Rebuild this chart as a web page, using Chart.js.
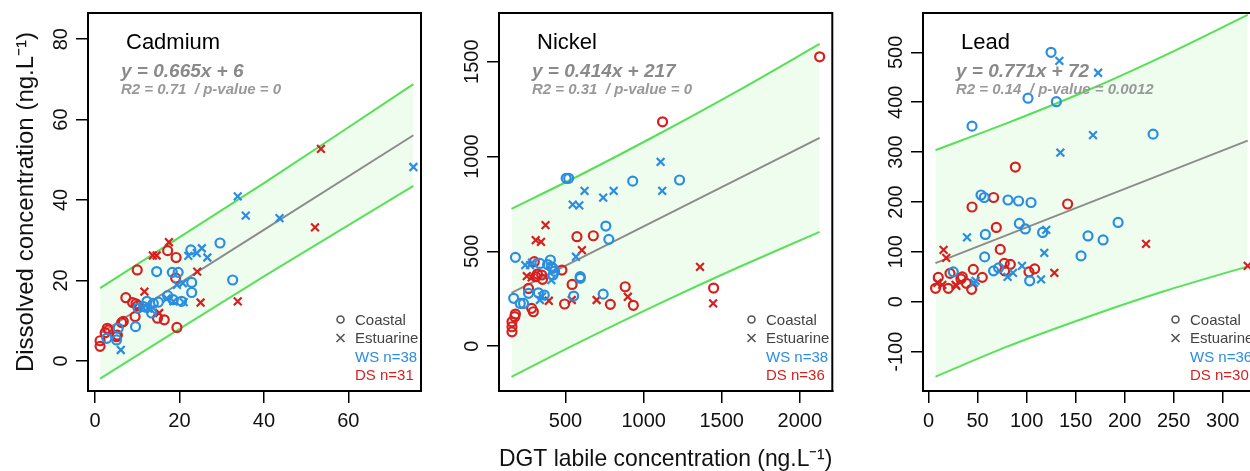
<!DOCTYPE html>
<html>
<head>
<meta charset="utf-8">
<script src="https://cdn.jsdelivr.net/npm/chart.js@4.4.1/dist/chart.umd.min.js"></script>
<style>
  html, body { margin: 0; padding: 0; background: #fff; }
  body { width: 1250px; height: 471px; position: relative; overflow: hidden; }
  canvas { position: absolute; top: 0; }
</style>
</head>
<body>
<canvas id="cd" width="430" height="471" style="left:0px"></canvas>
<canvas id="ni" width="400" height="471" style="left:440px"></canvas>
<canvas id="pb" width="410" height="471" style="left:860px"></canvas>
<script>
// ---- Cadmium ----
const cdXTicks = [0, 20, 40, 60];
const cdYTicks = [0, 20, 40, 60, 80];
const cdCoastalWS = [[29.6,29.3],[22.7,27.6],[32.6,20.1],[22.9,19.5],[22.9,17.0],[14.6,22.2],[18.3,22.0],[19.7,22.0],[17.2,16.2],[18.5,15.2],[20.5,14.8],[12.3,14.8],[13.8,14.3],[10.2,13.1],[13.4,11.9],[11.5,13.5],[9.6,8.5],[5.5,8.1],[5.1,5.2],[2.8,5.6],[15.0,14.6]];
const cdEstuarineWS = [[75.4,48.2],[33.8,40.9],[35.7,36.1],[43.7,35.5],[25.3,28.0],[22.1,26.1],[24.1,26.8],[26.6,25.7],[19.4,18.9],[20.8,19.3],[18.6,14.8],[11.4,13.2],[12.6,13.0],[6.1,2.7],[17.0,15.5],[21.0,14.6],[13.2,12.8]];
const cdCoastalDS = [[17.2,27.4],[19.2,25.7],[10.0,22.6],[19.1,20.6],[7.3,15.7],[8.9,14.5],[9.7,14.2],[10.1,13.7],[9.5,11.0],[14.8,10.6],[16.4,10.2],[19.4,8.3],[6.3,9.5],[6.7,9.8],[5.1,6.0],[3.2,7.7],[2.4,7.0],[1.2,5.0],[1.2,3.6],[2.9,8.1],[5.3,6.4]];
const cdEstuarineDS = [[53.5,52.7],[52.1,33.2],[33.8,14.8],[25.0,14.5],[24.2,22.2],[17.5,29.5],[13.7,26.2],[14.6,26.2],[11.7,17.2],[15.2,11.9]];
const cdFit = [[1.2,6.8],[75.4,56.1]];
const cdUpper = [[1.2,18.1],[40,44.2],[75.4,68.8]];
const cdLower = [[1.2,-4.4],[40,21.0],[75.4,43.5]];

// ---- Nickel ----
const niXTicks = [500, 1000, 1500, 2000];
const niYTicks = [0, 500, 1000, 1500];
const niCoastalWS = [[504,885],[520,885],[930,870],[1230,876],[758,633],[777,563],[179,468],[336,436],[403,454],[409,418],[420,410],[420,375],[594,366],[594,357],[168,252],[210,225],[231,225],[263,278],[326,281],[364,269],[552,264],[741,274],[385,430],[430,395]];
const niEstuarineWS = [[1109,972],[1119,819],[622,819],[808,819],[741,783],[546,746],[588,742],[567,471],[242,427],[273,427],[409,348],[336,243],[350,262],[285,440]];
const niCoastalDS = [[2127,1526],[1121,1183],[573,577],[678,582],[300,445],[477,401],[309,366],[347,375],[353,352],[263,304],[542,325],[882,313],[1448,306],[494,222],[787,220],[934,215],[283,199],[294,181],[179,169],[175,155],[157,128],[157,102],[157,75],[320,380]];
const niEstuarineDS = [[372,638],[309,559],[343,550],[605,506],[1361,418],[252,369],[283,362],[393,239],[540,243],[699,243],[899,260],[1445,225]];
const niFit = [[154,281],[2127,1098]];
const niUpper = [[154,724],[600,905],[1100,1120],[1600,1345],[2127,1594]];
const niLower = [[154,-162],[600,25],[1100,224],[1600,413],[2127,602]];

// ---- Lead ----
const pbXTicks = [0, 50, 100, 150, 200, 250, 300];
const pbYTicks = [-100, 0, 100, 200, 300, 400, 500];
const pbCoastalWS = [[124.9,500],[101.4,408],[130.3,401],[44.3,352],[229,336],[53.5,214],[56.8,209],[81,204],[91.8,202],[104.5,199],[92.6,157],[98.7,146],[57.9,135],[116.3,139],[162.6,132],[178,124],[193.3,159],[57.2,90],[155.5,92],[71.4,68],[66.3,62],[103.1,42],[25.2,60]];
const pbEstuarineWS = [[133.4,483],[172.9,459],[167.7,334],[134.4,299],[39.2,129],[120,144],[118,98],[95.3,72],[86.1,58],[80.6,50],[114.7,45],[46.3,38],[48,42]];
const pbCoastalDS = [[88.5,270],[66.3,209],[44.3,190],[141.8,196],[69.1,149],[73.1,105],[77.2,77],[83.4,75],[77.6,62],[102.4,60],[108.2,66],[45.6,65],[54.8,49],[21.8,57],[9.9,49],[7.1,27],[20.1,27],[34.4,50],[33,46],[38.5,37],[43.9,25]];
const pbEstuarineDS = [[15.3,104],[18,88],[221.8,116],[128.3,58],[325.5,72],[9,38],[28.3,32],[14,34],[27.6,34]];
const pbFit = [[7,77.4],[325.5,323]];
const pbUpper = [[7,304],[80,358],[160,422],[240,493],[325.5,575]];
const pbLower = [[7,-150],[80,-90],[160,-32],[240,21],[325.5,71]];

const WS = '#2b8de0';
const DS = '#d81f1f';
const FONT = '"Liberation Sans", Arial, sans-serif';
const TICK_FONT = '"Liberation Sans Narrow", "Liberation Sans", Arial, sans-serif';
const TICK_SIZE = 20;

function pts(arr) {
  return arr.map(p => ({ x: p[0], y: p[1] }));
}

function textWidth(str, font) {
  const c = document.createElement('canvas').getContext('2d');
  c.font = font;
  return c.measureText(str).width;
}

// R-style box, panel title, equation and legend
const panelText = {
  id: 'panelText',
  afterDraw(chart, args, o) {
    const { ctx, chartArea: a } = chart;
    ctx.save();
    ctx.strokeStyle = '#000';
    ctx.lineWidth = 2;
    ctx.strokeRect(a.left, a.top, a.right - a.left, a.bottom - a.top);

    ctx.textAlign = 'left';
    ctx.textBaseline = 'alphabetic';
    ctx.fillStyle = '#000';
    ctx.font = '22px ' + FONT;
    ctx.fillText(o.title, a.left + 38, 48.5);

    ctx.fillStyle = '#8a8a8a';
    ctx.font = 'italic bold 19px ' + FONT;
    ctx.fillText(o.eq, a.left + 33, 76.5);
    ctx.fillStyle = '#999';
    ctx.font = 'italic bold 15px ' + FONT;
    ctx.fillText(o.stats, a.left + 33, 94);

    // legend
    const sx = a.left + 252.5;
    ctx.strokeStyle = '#555';
    ctx.lineWidth = 1.6;
    ctx.beginPath();
    ctx.arc(sx, 319.5, 3.5, 0, Math.PI * 2);
    ctx.stroke();
    ctx.beginPath();
    ctx.moveTo(sx - 4, 334); ctx.lineTo(sx + 4, 342);
    ctx.moveTo(sx + 4, 334); ctx.lineTo(sx - 4, 342);
    ctx.stroke();
    ctx.font = '15px ' + FONT;
    ctx.fillStyle = '#444';
    ctx.fillText('Coastal', a.left + 267, 325);
    ctx.fillText('Estuarine', a.left + 267, 343.3);
    ctx.fillStyle = WS;
    ctx.fillText(o.ws, a.left + 267, 361.5);
    ctx.fillStyle = DS;
    ctx.fillText(o.ds, a.left + 267, 379.5);
    ctx.restore();
  }
};

function makeChart(id, c) {
  const tickFont = { family: TICK_FONT, size: TICK_SIZE };
  const widest = Math.max(...c.yTicks.map(v => textWidth(String(v), TICK_SIZE + 'px ' + TICK_FONT)));
  const yPad = 27 - 12 - widest / 2;
  const scatter = (data, style, color, r) => ({
    type: 'scatter', data: pts(data), pointStyle: style, pointRadius: r,
    borderColor: color, backgroundColor: 'transparent', borderWidth: 2.2, order: 1
  });
  const line = (data, color, extra) => Object.assign({
    type: 'line', data: pts(data), borderColor: color, borderWidth: 2,
    pointRadius: 0, fill: false, tension: 0.3
  }, extra);

  return new Chart(document.getElementById(id), {
    type: 'scatter',
    data: {
      datasets: [
        scatter(c.wsC, 'circle', WS, 4.5),
        scatter(c.wsX, 'crossRot', WS, 5.5),
        scatter(c.dsC, 'circle', DS, 4.5),
        scatter(c.dsX, 'crossRot', DS, 5.5),
        line(c.fit, '#8c8c8c', { order: 2 }),
        line(c.upper, '#55e055', { order: 3, fill: '+1', backgroundColor: 'rgba(144,238,144,0.14)' }),
        line(c.lower, '#55e055', { order: 3 })
      ]
    },
    options: {
      responsive: false,
      animation: false,
      layout: { padding: { left: 0, top: 13, right: c.padRight, bottom: 0 } },
      plugins: {
        legend: { display: false },
        tooltip: { enabled: false },
        panelText: { title: c.title, eq: c.eq, stats: c.stats, ws: c.wsLabel, ds: c.dsLabel }
      },
      scales: {
        x: {
          type: 'linear', min: c.xMin, max: c.xMax,
          afterBuildTicks: ax => { ax.ticks = c.xTicks.map(v => ({ value: v })); },
          afterFit: s => { s.height = 80; s.paddingLeft = 0; s.paddingRight = 0; },
          ticks: { callback: v => String(v), font: tickFont, color: '#111', padding: 6, minRotation: 0, maxRotation: 0, autoSkip: false },
          grid: { drawOnChartArea: false, drawTicks: true, tickLength: 12, color: '#000', lineWidth: 1.5 },
          border: { display: true, color: '#000', width: 2 },
          title: c.xTitle ? { display: true, text: c.xTitle, color: '#111', font: { family: FONT, size: 24, lineHeight: 1 }, padding: 0 } : { display: false }
        },
        y: {
          type: 'linear', min: c.yMin, max: c.yMax,
          afterBuildTicks: ax => { ax.ticks = c.yTicks.map(v => ({ value: v })); },
          afterFit: s => { s.width = c.yWidth; s.paddingTop = 0; s.paddingBottom = 0; },
          ticks: { callback: v => String(v), font: tickFont, color: '#111', padding: yPad, minRotation: 90, maxRotation: 90, crossAlign: 'center', autoSkip: false },
          grid: { drawOnChartArea: false, drawTicks: true, tickLength: 12, color: '#000', lineWidth: 1.5 },
          border: { display: true, color: '#000', width: 2 },
          title: c.yTitle ? { display: true, text: c.yTitle, color: '#111', font: { family: FONT, size: 24, lineHeight: 1 }, padding: { top: 14, bottom: 0 } } : { display: false }
        }
      }
    },
    plugins: [panelText]
  });
}

makeChart('cd', {
  wsC: cdCoastalWS, wsX: cdEstuarineWS, dsC: cdCoastalDS, dsX: cdEstuarineDS,
  fit: cdFit, upper: cdUpper, lower: cdLower,
  xTicks: cdXTicks, yTicks: cdYTicks,
  xMin: -1.66, xMax: 77.2, yMin: -7.5, yMax: 86.5,
  yWidth: 88, padRight: 9,
  title: 'Cadmium', eq: 'y = 0.665x + 6', stats: 'R2 = 0.71  / p-value = 0',
  wsLabel: 'WS n=38', dsLabel: 'DS n=31',
  yTitle: 'Dissolved concentration (ng.L\u207B\u00B9)'
});

makeChart('ni', {
  wsC: niCoastalWS, wsX: niEstuarineWS, dsC: niCoastalDS, dsX: niEstuarineDS,
  fit: niFit, upper: niUpper, lower: niLower,
  xTicks: niXTicks, yTicks: niYTicks,
  xMin: 74, xMax: 2208, yMin: -237, yMax: 1757,
  yWidth: 59, padRight: 2,
  title: 'Nickel', eq: 'y = 0.414x + 217', stats: 'R2 = 0.31  / p-value = 0',
  wsLabel: 'WS n=38', dsLabel: 'DS n=36',
  xTitle: 'DGT labile concentration (ng.L\u207B\u00B9)'
});

makeChart('pb', {
  wsC: pbCoastalWS, wsX: pbEstuarineWS, dsC: pbCoastalDS, dsX: pbEstuarineDS,
  fit: pbFit, upper: pbUpper, lower: pbLower,
  xTicks: pbXTicks, yTicks: pbYTicks,
  xMin: -5.7, xMax: 336, yMin: -178.8, yMax: 578.8,
  yWidth: 63, padRight: 12,
  title: 'Lead', eq: 'y = 0.771x + 72', stats: 'R2 = 0.14  / p-value = 0.0012',
  wsLabel: 'WS n=36', dsLabel: 'DS n=30'
});
</script>
</body>
</html>
